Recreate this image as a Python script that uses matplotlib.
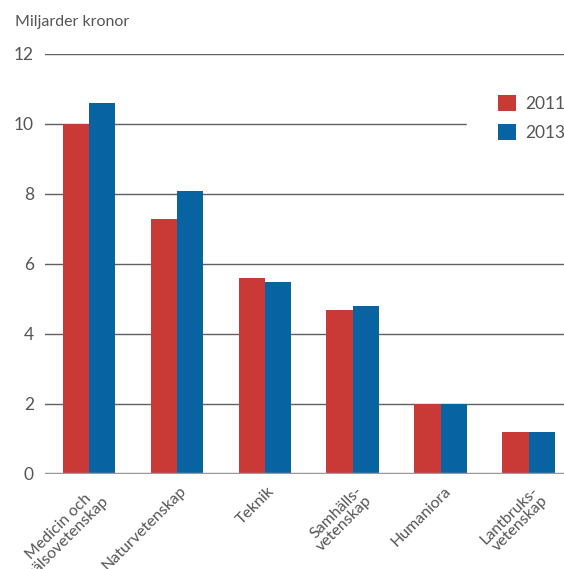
import matplotlib
matplotlib.use("Agg")
import matplotlib.pyplot as plt
import numpy as np

categories = ["Medicin och\nhälsovetenskap", "Naturvetenskap", "Teknik",
              "Samhälls-\nvetenskap", "Humaniora", "Lantbruks-\nvetenskap"]
values_2011 = [10.0, 7.3, 5.6, 4.7, 2.0, 1.2]
values_2013 = [10.6, 8.1, 5.5, 4.8, 2.0, 1.2]
series_labels = ["2011", "2013"]
yticks = [0, 2, 4, 6, 8, 10, 12]

RED = "#c93a36"
BLUE = "#0763a1"
TXT = "#555555"

plt.rcParams['font.family'] = ['Lato', 'DejaVu Sans']

fig = plt.figure(figsize=(5.64, 5.69), dpi=100)
W, H = 564, 569
ax = fig.add_axes([45 / W, 95 / H, 1 - 45 / W, (474 - 54) / H])

x = np.arange(len(categories))
w = 0.3
b1 = ax.bar(x - w / 2, values_2011, w, color=RED, label=series_labels[0], zorder=3)
b2 = ax.bar(x + w / 2, values_2013, w, color=BLUE, label=series_labels[1], zorder=3)

ax.set_xlim(-0.5, 5.4)
ax.set_ylim(0, 12)
ax.set_yticks(yticks)
ax.set_yticklabels([str(v) for v in yticks], fontsize=12.5, color=TXT)
for v in yticks[1:]:
    ax.axhline(v, color="#606060", lw=1.0, zorder=1)
ax.axhline(0, color="#999999", lw=2.5, zorder=4)

for s in ax.spines.values():
    s.set_visible(False)
ax.tick_params(axis='y', length=0, pad=8)
ax.tick_params(axis='x', length=0, pad=7)
ax.set_xticks(x + 0.03)
labels = ax.set_xticklabels(categories, rotation=45, ha='right', va='top',
                            rotation_mode='anchor', fontsize=11.5, color=TXT,
                            multialignment='right', linespacing=0.95)
labels[0].set_multialignment('center')

fig.text(15 / W, 1 - 22 / H, "Miljarder kronor", fontsize=11.5, color=TXT,
         va='center', ha='left')

leg = ax.legend(handles=[b1, b2], loc='upper left', bbox_to_anchor=(0.813, 0.976),
                borderaxespad=0, frameon=True, fancybox=False, edgecolor='white',
                facecolor='white', framealpha=1.0, fontsize=12.5,
                handlelength=1.05, handleheight=1.05, labelspacing=0.68,
                handletextpad=0.5, borderpad=1.8)
for t in leg.get_texts():
    t.set_color(TXT)
leg.set_zorder(10)

fig.savefig("out.png", dpi=100)
